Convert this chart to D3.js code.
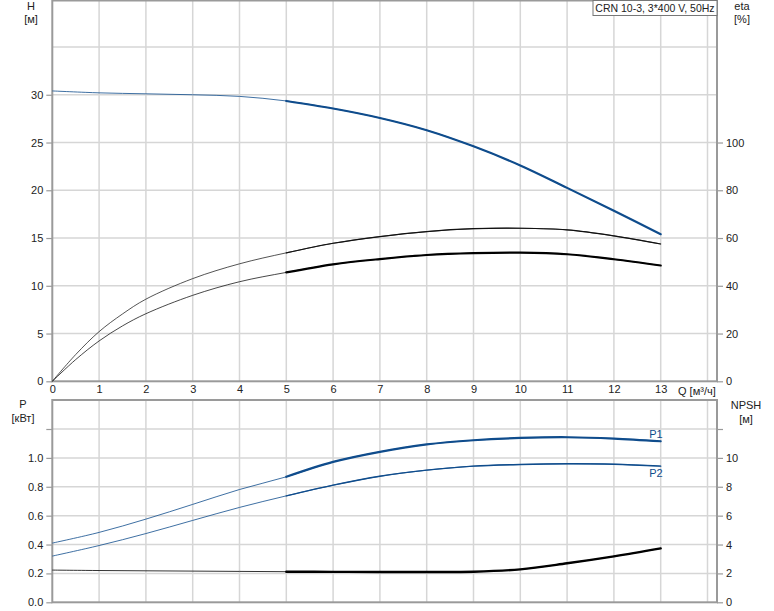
<!DOCTYPE html>
<html><head><meta charset="utf-8">
<script src="https://cdn.jsdelivr.net/npm/d3@7/dist/d3.min.js"></script>
<style>
body{margin:0;background:#fff;}
svg{display:block;font-family:"Liberation Sans",Arial,sans-serif;}
</style></head>
<body>
<svg id="c" width="774" height="611"></svg>
<script>
// ---- data ----
const q = [0,1,2,3,4,5,6,7,8,9,10,11,12,13];
const headH = [30.4,30.2,30.1,30.0,29.83,29.35,28.56,27.57,26.29,24.6,22.6,20.25,17.85,15.4];
const qEta = [0,0.5,1,1.5,2,3,4,5,6,7,8,9,10,11,12,13];
const etaUpper = [0,11.2,20.8,28.2,34.4,43,49.2,53.8,57.8,60.6,62.7,63.9,64.1,63.4,60.9,57.5];
const etaLower = [0,9.1,16.9,23.2,28.3,36,41.7,45.6,49,51.2,52.9,53.7,53.9,53.2,51.1,48.5];
const powerP1 = [0.41,0.484,0.576,0.678,0.781,0.869,0.972,1.042,1.093,1.122,1.138,1.143,1.134,1.115];
const powerP2 = [0.32,0.393,0.476,0.567,0.657,0.737,0.811,0.873,0.915,0.943,0.954,0.959,0.956,0.943];
const npsh = [2.23,2.2,2.18,2.16,2.14,2.12,2.11,2.1,2.1,2.12,2.28,2.7,3.18,3.73];
const qTicks = [0,1,2,3,4,5,6,7,8,9,10,11,12,13];
const hTicks = [0,5,10,15,20,25,30];
const etaTicks = [0,20,40,60,80,100];
const pTicks = [0.0,0.2,0.4,0.6,0.8,1.0];
const npshTicks = [0,2,4,6,8,10];
const opStart = 5; // start of bold (operating) range
const title = "CRN 10-3, 3*400 V, 50Hz";

// ---- layout ----
const svg = d3.select("#c");
const L = 52.3, R = 717;
const x = d3.scaleLinear().domain([0,14]).range([L, 707.5]);
const yH = d3.scaleLinear().domain([0,35]).range([381.3, 47]);
const yEta = d3.scaleLinear().domain([0,140]).range([381.3, 47]);
const yP = d3.scaleLinear().domain([0,1.2]).range([602.3, 429]);
const yN = d3.scaleLinear().domain([0,12]).range([602.3, 429]);

const gridC = "#d6d6d6", axC = "#9a9a9a", txtC = "#222", blue = "#0f4c8c";

function panel(top, bottom, yL, hLines) {
  const g = svg.append("g");
  g.selectAll(null).data(d3.range(1,15)).join("line")
    .attr("x1", d=>x(d)).attr("x2", d=>x(d)).attr("y1", top).attr("y2", bottom)
    .attr("stroke", gridC).attr("stroke-width", 1.5);
  g.selectAll(null).data(hLines).join("line")
    .attr("x1", L).attr("x2", R).attr("y1", d=>yL(d)).attr("y2", d=>yL(d))
    .attr("stroke", gridC).attr("stroke-width", 1.5);
  g.append("rect").attr("x", L).attr("y", top).attr("width", R-L).attr("height", bottom-top)
    .attr("fill","none").attr("stroke", axC).attr("stroke-width", 2);
  return g;
}

const top1 = 0.5, bot1 = 381.3, top2 = 400, bot2 = 602.3;
panel(top1, bot1, yH, [5,10,15,20,25,30,35]);
panel(top2, bot2, yP, [0.2,0.4,0.6,0.8,1.0,1.2]);

function style(a) {
  a.select(".domain").remove();
  a.selectAll(".tick line").attr("stroke", axC).attr("stroke-width", 1.2);
  a.selectAll(".tick text").attr("fill", txtC).style("font-size","11px")
    .style("font-family", '"Liberation Sans",Arial,sans-serif');
}
function leftAxis(scale, ticks, fmt, extraTicks) {
  svg.append("g").attr("transform", `translate(${L},0)`)
    .call(d3.axisLeft(scale).tickValues(ticks).tickFormat(fmt).tickSize(6).tickPadding(3)).call(style);
  if (extraTicks) svg.append("g").attr("transform", `translate(${L},0)`)
    .call(d3.axisLeft(scale).tickValues(extraTicks).tickFormat("").tickSize(6)).call(style);
}
function rightAxis(scale, ticks, fmt, extraTicks) {
  svg.append("g").attr("transform", `translate(${R},0)`)
    .call(d3.axisRight(scale).tickValues(ticks).tickFormat(fmt).tickSize(6).tickPadding(3)).call(style);
  if (extraTicks) svg.append("g").attr("transform", `translate(${R},0)`)
    .call(d3.axisRight(scale).tickValues(extraTicks).tickFormat("").tickSize(6)).call(style);
}
leftAxis(yH, hTicks, d3.format("d"));
rightAxis(yEta, etaTicks, d3.format("d"));
leftAxis(yP, pTicks, d3.format(".1f"), [1.2]);
rightAxis(yN, npshTicks, d3.format("d"), [12]);

svg.append("g").attr("transform", `translate(0,${bot1})`)
  .call(d3.axisBottom(x).tickValues(qTicks).tickFormat(d3.format("d")).tickSize(0).tickPadding(4)).call(style);

function txt(xp, yp, s, anchor) {
  svg.append("text").attr("x", xp).attr("y", yp).attr("text-anchor", anchor||"middle")
    .attr("fill", txtC).style("font-size","11px").text(s);
}
txt(31, 10, "H"); txt(31, 23, "[м]");
txt(742, 10, "eta"); txt(742, 23, "[%]");
txt(23, 408, "P"); txt(23, 422, "[кВт]");
txt(746, 409, "NPSH"); txt(746, 423, "[м]");
txt(678, 395, "Q [м³/ч]", "start");

svg.append("rect").attr("x", 593).attr("y", 0.5).attr("width", 124).attr("height", 15)
  .attr("fill", "#fff").attr("stroke", "#777").attr("stroke-width", 1);
svg.append("text").attr("x", 655).attr("y", 11.5).attr("text-anchor","middle")
  .attr("fill", txtC).style("font-size","10.5px").text(title);

function curve(qs, vals, ys, color, thin, thick) {
  const pts = qs.map((d,i)=>[d, vals[i]]);
  const line = d3.line().x(d=>x(d[0])).y(d=>ys(d[1])).curve(d3.curveCatmullRom.alpha(0.5));
  svg.append("path").attr("d", line(pts)).attr("fill","none")
    .attr("stroke", color).attr("stroke-width", thin).attr("stroke-opacity", 0.8);
  svg.append("path").attr("d", line(pts.filter(d=>d[0]>=opStart))).attr("fill","none")
    .attr("stroke", color).attr("stroke-width", thick).attr("stroke-linecap","round");
}
curve(q, headH, yH, blue, 1, 2.2);
curve(qEta, etaUpper, yEta, "#111", 0.9, 1.2);
curve(qEta, etaLower, yEta, "#000", 0.9, 2.2);
curve(q, powerP1, yP, blue, 1, 2.2);
curve(q, powerP2, yP, blue, 1, 1.4);
curve(q, npsh, yN, "#000", 1, 2.4);

svg.append("text").attr("x", 656).attr("y", yP(powerP1[13]) - 3).attr("text-anchor","middle")
  .attr("fill", blue).style("font-size","11px").text("P1");
svg.append("text").attr("x", 656).attr("y", yP(powerP2[13]) + 11).attr("text-anchor","middle")
  .attr("fill", blue).style("font-size","11px").text("P2");
</script>
</body></html>
